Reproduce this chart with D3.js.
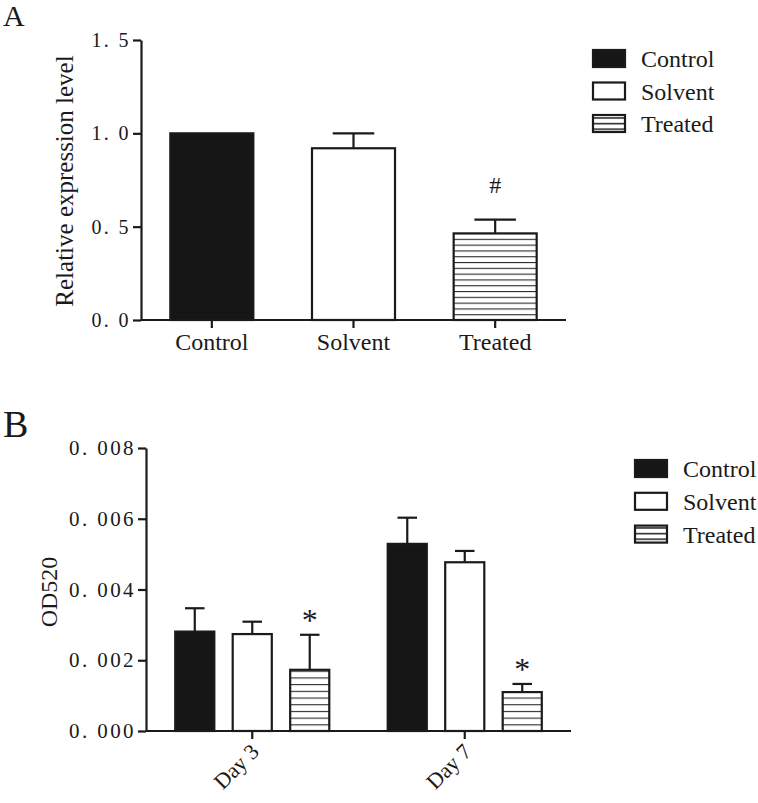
<!DOCTYPE html>
<html>
<head>
<meta charset="utf-8">
<script src="https://cdn.jsdelivr.net/npm/d3@7"></script>
<style>
  html, body { margin: 0; padding: 0; background: #fff; }
  svg { display: block; }
  svg text { font-family: "Liberation Serif", "Times New Roman", Times, "DejaVu Serif", serif !important; fill: #1a1a1a; }
</style>
</head>
<body>
<svg id="chart" width="758" height="803"></svg>
<script>
// ---------- Data ----------
const seriesNames = ["Control", "Solvent", "Treated"];

// Panel A
const categoriesA = ["Control", "Solvent", "Treated"];
const valuesA = [1.0, 0.92, 0.464];
const errorsA = [0, 0.08, 0.074];
const marksA = ["", "", "#"];
const ticksA = [0, 0.5, 1.0, 1.5];
const yLabelA = "Relative expression level";

// Panel B
const groupsB = ["Day 3", "Day 7"];
const controlB = [0.00281, 0.00529];
const solventB = [0.00274, 0.00477];
const treatedB = [0.00173, 0.00110];
const controlErrB = [0.00066, 0.00074];
const solventErrB = [0.00035, 0.00032];
const treatedErrB = [0.00099, 0.00023];
const marksB = ["*", "*"];
const ticksB = [0, 0.002, 0.004, 0.006, 0.008];
const yLabelB = "OD520";

// ---------- Setup ----------
const FONT = '"Liberation Serif", "Times New Roman", Times, "DejaVu Serif", serif';
const svg = d3.select("#chart");
const ink = "#1a1a1a";
const fills = { Control: "#161616", Solvent: "#ffffff" };

const defs = svg.append("defs");
function makeHatch(id, spacing, baseY, sw) {
  const p = defs.append("pattern")
    .attr("id", id)
    .attr("patternUnits", "userSpaceOnUse")
    .attr("width", 10)
    .attr("height", spacing)
    .attr("y", baseY % spacing);
  p.append("rect").attr("width", 10).attr("height", spacing).attr("fill", "#fff");
  p.append("line").attr("x1", 0).attr("x2", 10).attr("y1", sw / 2).attr("y2", sw / 2)
    .attr("stroke", "#2a2a2a").attr("stroke-width", sw);
}
makeHatch("hatchA", 5.8, 320, 1.1);
makeHatch("hatchB", 6.7, 731, 1.1);
makeHatch("hatchLeg", 5.6, 0, 1.6);

function fillFor(s, panel) {
  if (s === "Treated") return panel === "A" ? "url(#hatchA)" : "url(#hatchB)";
  return fills[s];
}

function styleAxis(g) {
  g.attr("font-family", FONT);
  g.selectAll("path.domain").attr("stroke", ink).attr("stroke-width", 2.2);
  g.selectAll(".tick line").attr("stroke", ink).attr("stroke-width", 2.2);
}

// ---------- Panel A ----------
{
  const x = d3.scaleBand().domain(categoriesA).range([141, 566])
    .paddingInner(0.414).paddingOuter(0.207);
  const y = d3.scaleLinear().domain([0, 1.5]).range([320, 40]);
  const g = svg.append("g");

  svg.append("text").attr("x", 3).attr("y", 26).attr("font-size", 30)
    .attr("font-family", FONT).text("A");

  g.selectAll("rect.bar").data(categoriesA).join("rect")
    .attr("x", d => x(d))
    .attr("y", (d, i) => y(valuesA[i]))
    .attr("width", x.bandwidth())
    .attr("height", (d, i) => y(0) - y(valuesA[i]))
    .attr("fill", d => fillFor(d, "A"))
    .attr("stroke", ink).attr("stroke-width", 2.2);

  categoriesA.forEach((c, i) => {
    if (errorsA[i] <= 0) return;
    const cx = x(c) + x.bandwidth() / 2;
    const top = y(valuesA[i] + errorsA[i]);
    g.append("line").attr("x1", cx).attr("x2", cx)
      .attr("y1", y(valuesA[i])).attr("y2", top)
      .attr("stroke", ink).attr("stroke-width", 2.2);
    g.append("line").attr("x1", cx - x.bandwidth() / 4).attr("x2", cx + x.bandwidth() / 4)
      .attr("y1", top).attr("y2", top)
      .attr("stroke", ink).attr("stroke-width", 2.2);
    if (marksA[i]) {
      g.append("text").attr("x", cx).attr("y", top - 27)
        .attr("text-anchor", "middle").attr("font-size", 24)
        .attr("font-family", FONT).text(marksA[i]);
    }
  });

  const yAxis = g.append("g").attr("transform", "translate(141,0)")
    .call(d3.axisLeft(y).tickValues(ticksA).tickSize(8).tickSizeOuter(0)
      .tickFormat(d => d.toFixed(1).replace(".", ". ")));
  styleAxis(yAxis);
  yAxis.selectAll(".tick text").attr("font-size", 20).attr("letter-spacing", "2.4px")
    .attr("dx", "1px").attr("fill", ink);

  const xAxis = g.append("g").attr("transform", "translate(0,320)")
    .call(d3.axisBottom(x).tickSize(8).tickSizeOuter(0));
  styleAxis(xAxis);
  xAxis.select("path.domain").attr("d", "M141,0H566");
  xAxis.selectAll(".tick text").attr("font-size", 24).attr("y", 30).attr("dy", 0)
    .attr("fill", ink);

  svg.append("text")
    .attr("transform", "translate(73,181) rotate(-90)")
    .attr("text-anchor", "middle").attr("font-size", 25)
    .attr("font-family", FONT).text(yLabelA);

  const leg = svg.append("g").attr("transform", "translate(593,50)");
  seriesNames.forEach((s, i) => {
    const gy = i * 32.5;
    leg.append("rect").attr("x", 0).attr("y", gy).attr("width", 32).attr("height", 17)
      .attr("fill", s === "Treated" ? "url(#hatchLeg)" : fills[s])
      .attr("stroke", ink).attr("stroke-width", 2.2);
    leg.append("text").attr("x", 48).attr("y", gy + 17).attr("font-size", 24)
      .attr("font-family", FONT).text(s);
  });
}

// ---------- Panel B ----------
{
  const x0 = d3.scaleBand().domain(groupsB).range([146, 571])
    .paddingInner(0.275).paddingOuter(0.1375);
  const x1 = d3.scaleBand().domain(seriesNames).range([0, x0.bandwidth()])
    .paddingInner(0.32).paddingOuter(0);
  const y = d3.scaleLinear().domain([0, 0.008]).range([731, 448]);
  const g = svg.append("g");

  svg.append("text").attr("x", 3).attr("y", 437).attr("font-size", 38)
    .attr("font-family", FONT).text("B");

  const vals = { Control: controlB, Solvent: solventB, Treated: treatedB };
  const errs = { Control: controlErrB, Solvent: solventErrB, Treated: treatedErrB };

  groupsB.forEach((grp, gi) => {
    seriesNames.forEach(s => {
      const v = vals[s][gi], e = errs[s][gi];
      const bx = x0(grp) + x1(s);
      const bw = x1.bandwidth();
      g.append("rect").attr("x", bx).attr("y", y(v))
        .attr("width", bw).attr("height", y(0) - y(v))
        .attr("fill", fillFor(s, "B")).attr("stroke", ink).attr("stroke-width", 2.2);
      const cx = bx + bw / 2;
      const top = y(v + e);
      g.append("line").attr("x1", cx).attr("x2", cx).attr("y1", y(v)).attr("y2", top)
        .attr("stroke", ink).attr("stroke-width", 2.2);
      g.append("line").attr("x1", cx - bw / 4).attr("x2", cx + bw / 4)
        .attr("y1", top).attr("y2", top).attr("stroke", ink).attr("stroke-width", 2.2);
      if (s === "Treated" && marksB[gi]) {
        g.append("text").attr("x", cx).attr("y", top - 4)
          .attr("text-anchor", "middle").attr("font-size", 32)
          .attr("font-family", FONT).text(marksB[gi]);
      }
    });
  });

  const yAxis = g.append("g").attr("transform", "translate(146,0)")
    .call(d3.axisLeft(y).tickValues(ticksB).tickSize(8).tickSizeOuter(0)
      .tickFormat(d => d.toFixed(3).replace(".", ". ")));
  styleAxis(yAxis);
  yAxis.selectAll(".tick text").attr("font-size", 21).attr("letter-spacing", "2.4px")
    .attr("dx", "1px").attr("fill", ink);

  const xAxis = g.append("g").attr("transform", "translate(0,731)")
    .call(d3.axisBottom(x0).tickSize(8).tickSizeOuter(0));
  styleAxis(xAxis);
  xAxis.select("path.domain").attr("d", "M146,0H571");
  xAxis.selectAll(".tick text").attr("font-size", 22)
    .attr("text-anchor", "end").attr("y", 0).attr("dy", 0)
    .attr("transform", "translate(8,22) rotate(-45)")
    .attr("fill", ink);

  svg.append("text")
    .attr("transform", "translate(57,592) rotate(-90)")
    .attr("text-anchor", "middle").attr("font-size", 24)
    .attr("font-family", FONT).text(yLabelB);

  const leg = svg.append("g").attr("transform", "translate(635,460)");
  seriesNames.forEach((s, i) => {
    const gy = i * 32.8;
    leg.append("rect").attr("x", 0).attr("y", gy).attr("width", 32).attr("height", 17)
      .attr("fill", s === "Treated" ? "url(#hatchLeg)" : fills[s])
      .attr("stroke", ink).attr("stroke-width", 2.2);
    leg.append("text").attr("x", 48).attr("y", gy + 17).attr("font-size", 24)
      .attr("font-family", FONT).text(s);
  });
}
</script>
</body>
</html>
